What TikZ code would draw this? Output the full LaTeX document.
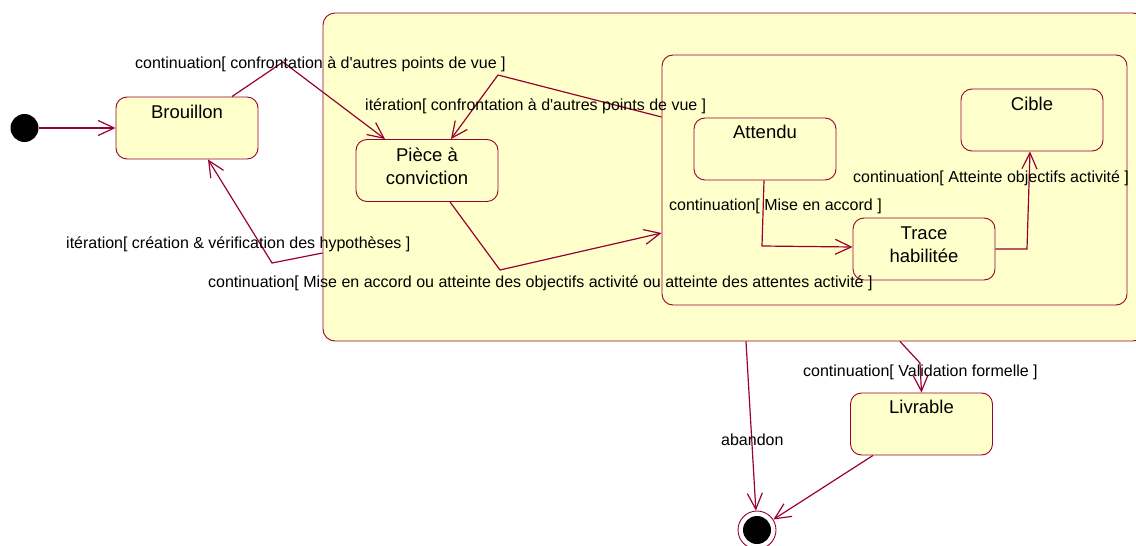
\documentclass[tikz,border=0pt]{standalone}
\usepackage{fontspec}
\setmainfont{Liberation Sans}
\usetikzlibrary{arrows.meta}
\definecolor{crim}{RGB}{153,0,51}
\definecolor{stfill}{RGB}{255,255,204}
\tikzset{
  stbox/.style={draw=crim, fill=stfill, rounded corners=11pt, line width=0.9pt, minimum width=142pt, minimum height=62pt, inner sep=0pt},
  sttext/.style={font=\fontsize{18.5}{23}\selectfont, anchor=base, align=center, inner sep=0pt},
  lbl/.style={font=\fontsize{16}{19}\selectfont, anchor=base west, inner sep=0pt},
  conn/.style={draw=crim, line width=1.2pt, -{Straight Barb[length=16pt,width=15pt,line width=1.2pt]}},
}
\begin{document}
\begin{tikzpicture}[x=1pt,y=-1pt]
\useasboundingbox (0,0) rectangle (1136,546);
\clip (0,0) rectangle (1136,546);
% composite states
\node[stbox, minimum width=822pt, minimum height=328pt, rounded corners=12pt] (outer) at (734,177) {};
\node[stbox, minimum width=465pt, minimum height=250pt] (inner) at (894.5,180) {};
% states
\node[stbox] (brouillon) at (187,128) {};
\node[sttext] (tbrouillon) at (187,118) {Brouillon};
\node[stbox] (piece) at (427,170.5) {};
\node[sttext] (tpiece) at (427,184) {Pièce à\\conviction};
\node[stbox] (attendu) at (765,149) {};
\node[sttext] (tattendu) at (765,138) {Attendu};
\node[stbox] (cible) at (1032,120) {};
\node[sttext] (tcible) at (1032,110) {Cible};
\node[stbox] (trace) at (924,249) {};
\node[sttext] (ttrace) at (924,262) {Trace\\habilitée};
\node[stbox] (livrable) at (921.5,424) {};
\node[sttext] (tlivrable) at (921.5,413) {Livrable};
% pseudo states
\node[circle, fill=black, minimum size=28pt, inner sep=0pt] (init) at (24.5,128) {};
\node[circle, draw=crim, fill=white, line width=0.9pt, minimum size=38pt, inner sep=0pt] (final) at (757,530) {};
\node[circle, fill=black, minimum size=28pt, inner sep=0pt] (finaldot) at (757,530) {};
% bend points
\coordinate (k1) at (283,62);
\coordinate (k2) at (498,75);
\coordinate (k3) at (500,270);
\coordinate (k4) at (272,263);
\coordinate (k5) at (762,246);
\coordinate (k6) at (1027,249);
\coordinate (k7) at (920,363);
% connectors
\draw[conn] (init.east) -- (brouillon.west);
\draw[conn] ([xshift=45pt]brouillon.north) -- (k1) -- ([xshift=-42pt]piece.north);
\draw[conn] ([yshift=63pt]inner.west) -- (k2) -- ([xshift=24pt]piece.north);
\draw[conn] ([xshift=23pt]piece.south) -- (k3) -- ([yshift=-53pt]inner.west);
\draw[conn] ([yshift=-76pt]outer.west) -- (k4) -- ([xshift=21pt]brouillon.south);
\draw[conn] ([xshift=-1pt]attendu.south) -- (k5) -- ([yshift=2pt]trace.west);
\draw[conn] (trace.east) -- (k6) -- ([xshift=-2pt]cible.south);
\draw[conn] ([xshift=12pt]outer.south) -- (final);
\draw[conn] ([xshift=166pt]outer.south) -- (k7) -- (livrable.north);
\draw[conn] ([xshift=-48.5pt]livrable.south) -- (final);
% labels
\node[lbl] (l1) at (135,68) {continuation[ confrontation à d\textquotesingle autres points de vue ]};
\node[lbl] (l2) at (365,110) {itération[ confrontation à d\textquotesingle autres points de vue ]};
\node[lbl] (l3) at (208,287) {continuation[ Mise en accord ou atteinte des objectifs activité ou atteinte des attentes activité ]};
\node[lbl] (l4) at (66,248) {itération[ création \& vérification des hypothèses ]};
\node[lbl] (l5) at (669,210) {continuation[ Mise en accord ]};
\node[lbl] (l6) at (853,182) {continuation[ Atteinte objectifs activité ]};
\node[lbl] (l7) at (721,445) {abandon};
\node[lbl] (l8) at (803,376) {continuation[ Validation formelle ]};
\end{tikzpicture}
\end{document}
